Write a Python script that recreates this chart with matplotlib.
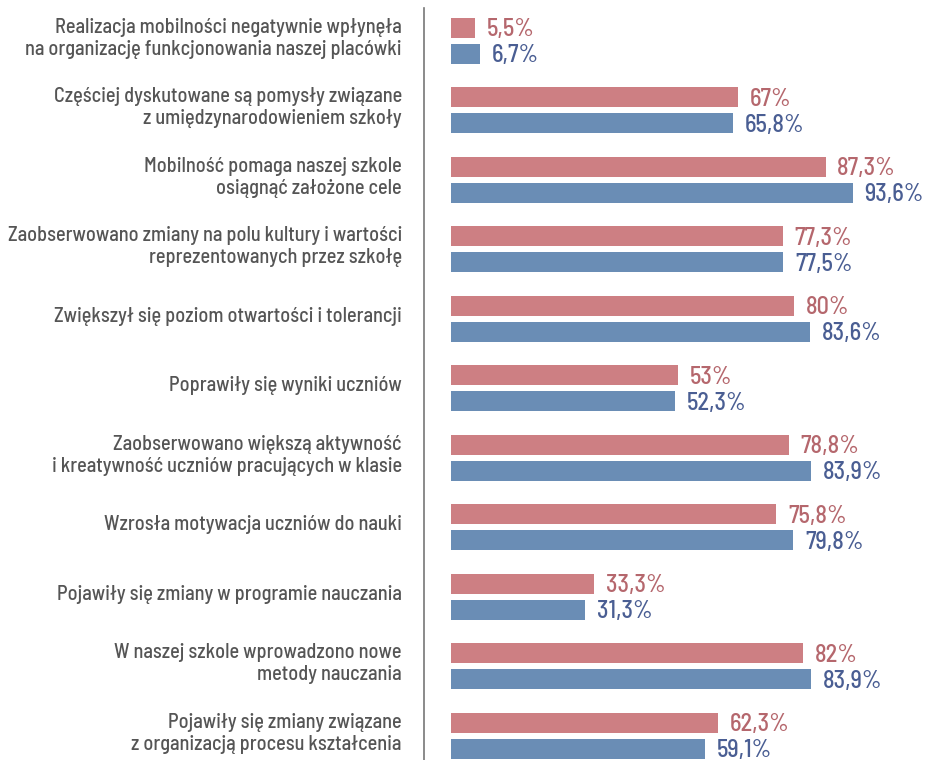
import matplotlib
matplotlib.use("Agg")
import matplotlib.pyplot as plt

categories = [
    "Realizacja mobilności negatywnie wpłynęła\nna organizację funkcjonowania naszej placówki",
    "Częściej dyskutowane są pomysły związane\nz umiędzynarodowieniem szkoły",
    "Mobilność pomaga naszej szkole\nosiągnąć założone cele",
    "Zaobserwowano zmiany na polu kultury i wartości\nreprezentowanych przez szkołę",
    "Zwiększył się poziom otwartości i tolerancji",
    "Poprawiły się wyniki uczniów",
    "Zaobserwowano większą aktywność\ni kreatywność uczniów pracujących w klasie",
    "Wzrosła motywacja uczniów do nauki",
    "Pojawiły się zmiany w programie nauczania",
    "W naszej szkole wprowadzono nowe\nmetody nauczania",
    "Pojawiły się zmiany związane\nz organizacją procesu kształcenia",
]
series_pink = [5.5, 67, 87.3, 77.3, 80, 53, 78.8, 75.8, 33.3, 82, 62.3]
series_blue = [6.7, 65.8, 93.6, 77.5, 83.6, 52.3, 83.9, 79.8, 31.3, 83.9, 59.1]
labels_pink = ["5,5%", "67%", "87,3%", "77,3%", "80%", "53%", "78,8%", "75,8%", "33,3%", "82%", "62,3%"]
labels_blue = ["6,7%", "65,8%", "93,6%", "77,5%", "83,6%", "52,3%", "83,9%", "79,8%", "31,3%", "83,9%", "59,1%"]

plt.rcParams["font.family"] = ["Barlow Semi Condensed", "Roboto Condensed", "DejaVu Sans"]

W, H = 928, 760
fig = plt.figure(figsize=(W / 100, H / 100), dpi=100)
ax_left, ax_top, ax_bottom = 424, 8, 760
ax = fig.add_axes([ax_left / W, 0, (W - ax_left) / W, (ax_bottom - ax_top) / H])

pitch = 69.5
scale = 4.29  # px per percent
x0 = 451
ax.set_xlim(-(x0 - ax_left) / scale, (W - x0) / scale)
ctr0 = 40.5
ax.set_ylim((ax_bottom - ctr0) / pitch, (ax_top - ctr0) / pitch)

pink_bar, blue_bar = "#CD7F83", "#6A8DB5"
pink_txt, blue_txt = "#B5676D", "#4A5E93"
h = 20 / pitch
off = 13 / pitch
ys = list(range(len(categories)))
ax.barh([y - off for y in ys], series_pink, height=h, color=pink_bar)
ax.barh([y + off for y in ys], series_blue, height=h, color=blue_bar)

for y, v, s in zip(ys, series_pink, labels_pink):
    ax.annotate(s, (v, y - off), xytext=(8.5, -1.5), textcoords="offset points",
                ha="left", va="center", fontsize=17.5, fontweight="medium", color=pink_txt)
for y, v, s in zip(ys, series_blue, labels_blue):
    ax.annotate(s, (v, y + off), xytext=(8.5, -1.5), textcoords="offset points",
                ha="left", va="center", fontsize=17.5, fontweight="medium", color=blue_txt)

for y, c in zip(ys, categories):
    ax.annotate(c, (0, y), xycoords=("axes fraction", "data"), xytext=(-16, 1.5),
                textcoords="offset points", ha="right", va="center",
                fontsize=14.6, fontweight="medium", color="#555555", linespacing=1.2)

for sp in ["top", "right", "bottom"]:
    ax.spines[sp].set_visible(False)
ax.spines["left"].set_color("#777777")
ax.spines["left"].set_linewidth(1.2)
ax.set_xticks([])
ax.set_yticks([])

fig.savefig("out.png", dpi=100)
